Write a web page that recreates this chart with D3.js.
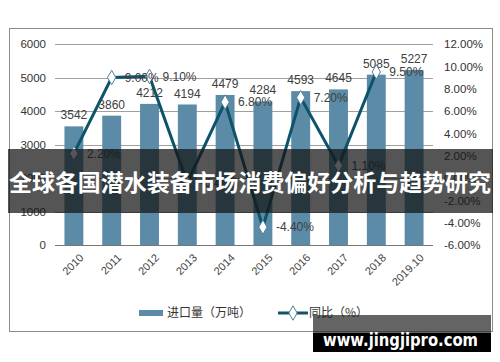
<!DOCTYPE html>
<html>
<head>
<meta charset="utf-8">
<script src="https://cdn.jsdelivr.net/npm/d3@7/dist/d3.min.js"></script>
<style>
html,body{margin:0;padding:0;background:#fff;}
svg{display:block;}
</style>
</head>
<body>
<svg id="chart" width="500" height="362"></svg>
<script>
const categories = ["2010","2011","2012","2013","2014","2015","2016","2017","2018","2019.10"];
const importVolume = [3542,3860,4212,4194,4479,4284,4593,4645,5085,5227];
const yoyGrowth = [2.2,9.0,9.1,-0.4,6.8,-4.4,7.2,1.1,9.5,null];
const leftTicks = [0,1000,2000,3000,4000,5000,6000];
const rightTicks = [-6,-4,-2,0,2,4,6,8,10,12];
const seriesNames = ["进口量（万吨）","同比（%）"];
const bannerTitle = "全球各国潜水装备市场消费偏好分析与趋势研究";
const watermark = "www.jingjipro.com";

const svg = d3.select("#chart");
const numFont = "'Liberation Sans', Arial, sans-serif";
const cjkFont = "'Noto Sans CJK SC', sans-serif";
const barColor = "#5b8ba6";
const lineColor = "#0d5369";
const pct = v => d3.format(".2f")(v).replace("\u2212","-") + "%";

// frame
svg.append("rect").attr("x",9.5).attr("y",28.5).attr("width",483).attr("height",303)
  .attr("fill","#fff").attr("stroke","#8c8c8c").attr("stroke-width",1);

const x = d3.scaleBand().domain(categories).range([55,433]).paddingInner(0.5).paddingOuter(0.25);
const yL = d3.scaleLinear().domain([0,6000]).range([245,44]);
const yR = d3.scaleLinear().domain([-6,12]).range([245,44]);

// gridlines
svg.append("g").selectAll("line").data(leftTicks).join("line")
  .attr("x1",55).attr("x2",433)
  .attr("y1",d=>Math.round(yL(d))+0.5).attr("y2",d=>Math.round(yL(d))+0.5)
  .attr("stroke",d=>d===0?"#777":"#a0a0a0").attr("stroke-width",1);

// left axis
const axL = svg.append("g").attr("transform","translate(46,0)")
  .call(d3.axisLeft(yL).tickValues(leftTicks).tickSize(0).tickPadding(0).tickFormat(d3.format("d")));
axL.select(".domain").remove();
axL.selectAll("text").attr("font-family",numFont).attr("font-size","11.5px").attr("fill","#333");

// right axis
const axR = svg.append("g").attr("transform","translate(444,0)")
  .call(d3.axisRight(yR).tickValues(rightTicks).tickSize(0).tickPadding(0).tickFormat(pct));
axR.select(".domain").remove();
axR.selectAll("text").attr("font-family",numFont).attr("font-size","11.5px").attr("fill","#333");

// bars
svg.append("g").selectAll("rect").data(categories).join("rect")
  .attr("x",(d)=>x(d)).attr("width",x.bandwidth())
  .attr("y",(d,i)=>yL(importVolume[i])).attr("height",(d,i)=>yL(0)-yL(importVolume[i]))
  .attr("fill",barColor);

// bar labels
svg.append("g").selectAll("text").data(categories).join("text")
  .attr("x",d=>x(d)+x.bandwidth()/2).attr("y",(d,i)=>yL(importVolume[i])-7)
  .attr("text-anchor","middle").attr("font-family",numFont).attr("font-size","12px").attr("fill","#404040")
  .text((d,i)=>importVolume[i]);

// x labels
svg.append("g").selectAll("text").data(categories).join("text")
  .attr("transform",d=>`translate(${x(d)+x.bandwidth()/2+5},253) rotate(-45)`)
  .attr("text-anchor","end").attr("dy","0.7em")
  .attr("font-family",numFont).attr("font-size","11px").attr("fill","#444")
  .text(d=>d);

// line
const pts = categories.map((c,i)=>({c,v:yoyGrowth[i]})).filter(p=>p.v!==null);
const cx = c=>x(c)+x.bandwidth()/2;
svg.append("path").datum(pts)
  .attr("d",d3.line().x(p=>cx(p.c)).y(p=>yR(p.v)))
  .attr("fill","none").attr("stroke",lineColor).attr("stroke-width",3).attr("stroke-linejoin","miter");

const diamond = d3.symbol().type(d3.symbolDiamond).size(60);
svg.append("g").selectAll("path").data(pts).join("path")
  .attr("transform",p=>`translate(${cx(p.c)},${yR(p.v)})`)
  .attr("d",diamond).attr("fill","#fff").attr("stroke","#4f7f96").attr("stroke-width",1);

svg.append("g").selectAll("text").data(pts).join("text")
  .attr("x",p=>cx(p.c)+13).attr("y",p=>yR(p.v)).attr("dy","0.35em")
  .attr("font-family",numFont).attr("font-size","12px").attr("fill","#404040")
  .text(p=>pct(p.v));

// legend
const lg = svg.append("g");
lg.append("rect").attr("x",139).attr("y",310).attr("width",24).attr("height",6).attr("fill",barColor);
lg.append("text").attr("x",167).attr("y",313).attr("dy","0.35em")
  .attr("font-family",cjkFont).attr("font-size","12px").attr("fill","#333").text(seriesNames[0]);
lg.append("line").attr("x1",278).attr("x2",308).attr("y1",313).attr("y2",313)
  .attr("stroke",lineColor).attr("stroke-width",3);
lg.append("path").attr("transform","translate(293,313)").attr("d",diamond)
  .attr("fill","#fff").attr("stroke","#4f7f96").attr("stroke-width",1);
lg.append("text").attr("x",309).attr("y",313).attr("dy","0.35em")
  .attr("font-family",cjkFont).attr("font-size","12px").attr("fill","#333").text(seriesNames[1]);

// banner overlay
svg.append("rect").attr("x",8).attr("y",149).attr("width",485).attr("height",64)
  .attr("fill","rgba(20,20,20,0.72)");
svg.append("text").attr("x",250).attr("y",183).attr("dy","0.36em").attr("text-anchor","middle")
  .attr("font-family",cjkFont).attr("font-weight","bold").attr("font-size","23px").attr("fill","#fff")
  .attr("textLength",482).attr("lengthAdjust","spacingAndGlyphs")
  .text(bannerTitle);

// watermark
svg.append("rect").attr("x",313).attr("y",315).attr("width",178).attr("height",18).attr("fill","rgba(40,40,40,0.72)");
svg.append("rect").attr("x",313).attr("y",333).attr("width",178).attr("height",19).attr("fill","#000");
svg.append("text").attr("x",323).attr("y",346)
  .attr("font-family","'DejaVu Sans', Verdana, sans-serif").attr("font-weight","bold").attr("font-size","17px").attr("fill","#fff")
  .attr("textLength",155).attr("lengthAdjust","spacingAndGlyphs")
  .text(watermark);
</script>
</body>
</html>
